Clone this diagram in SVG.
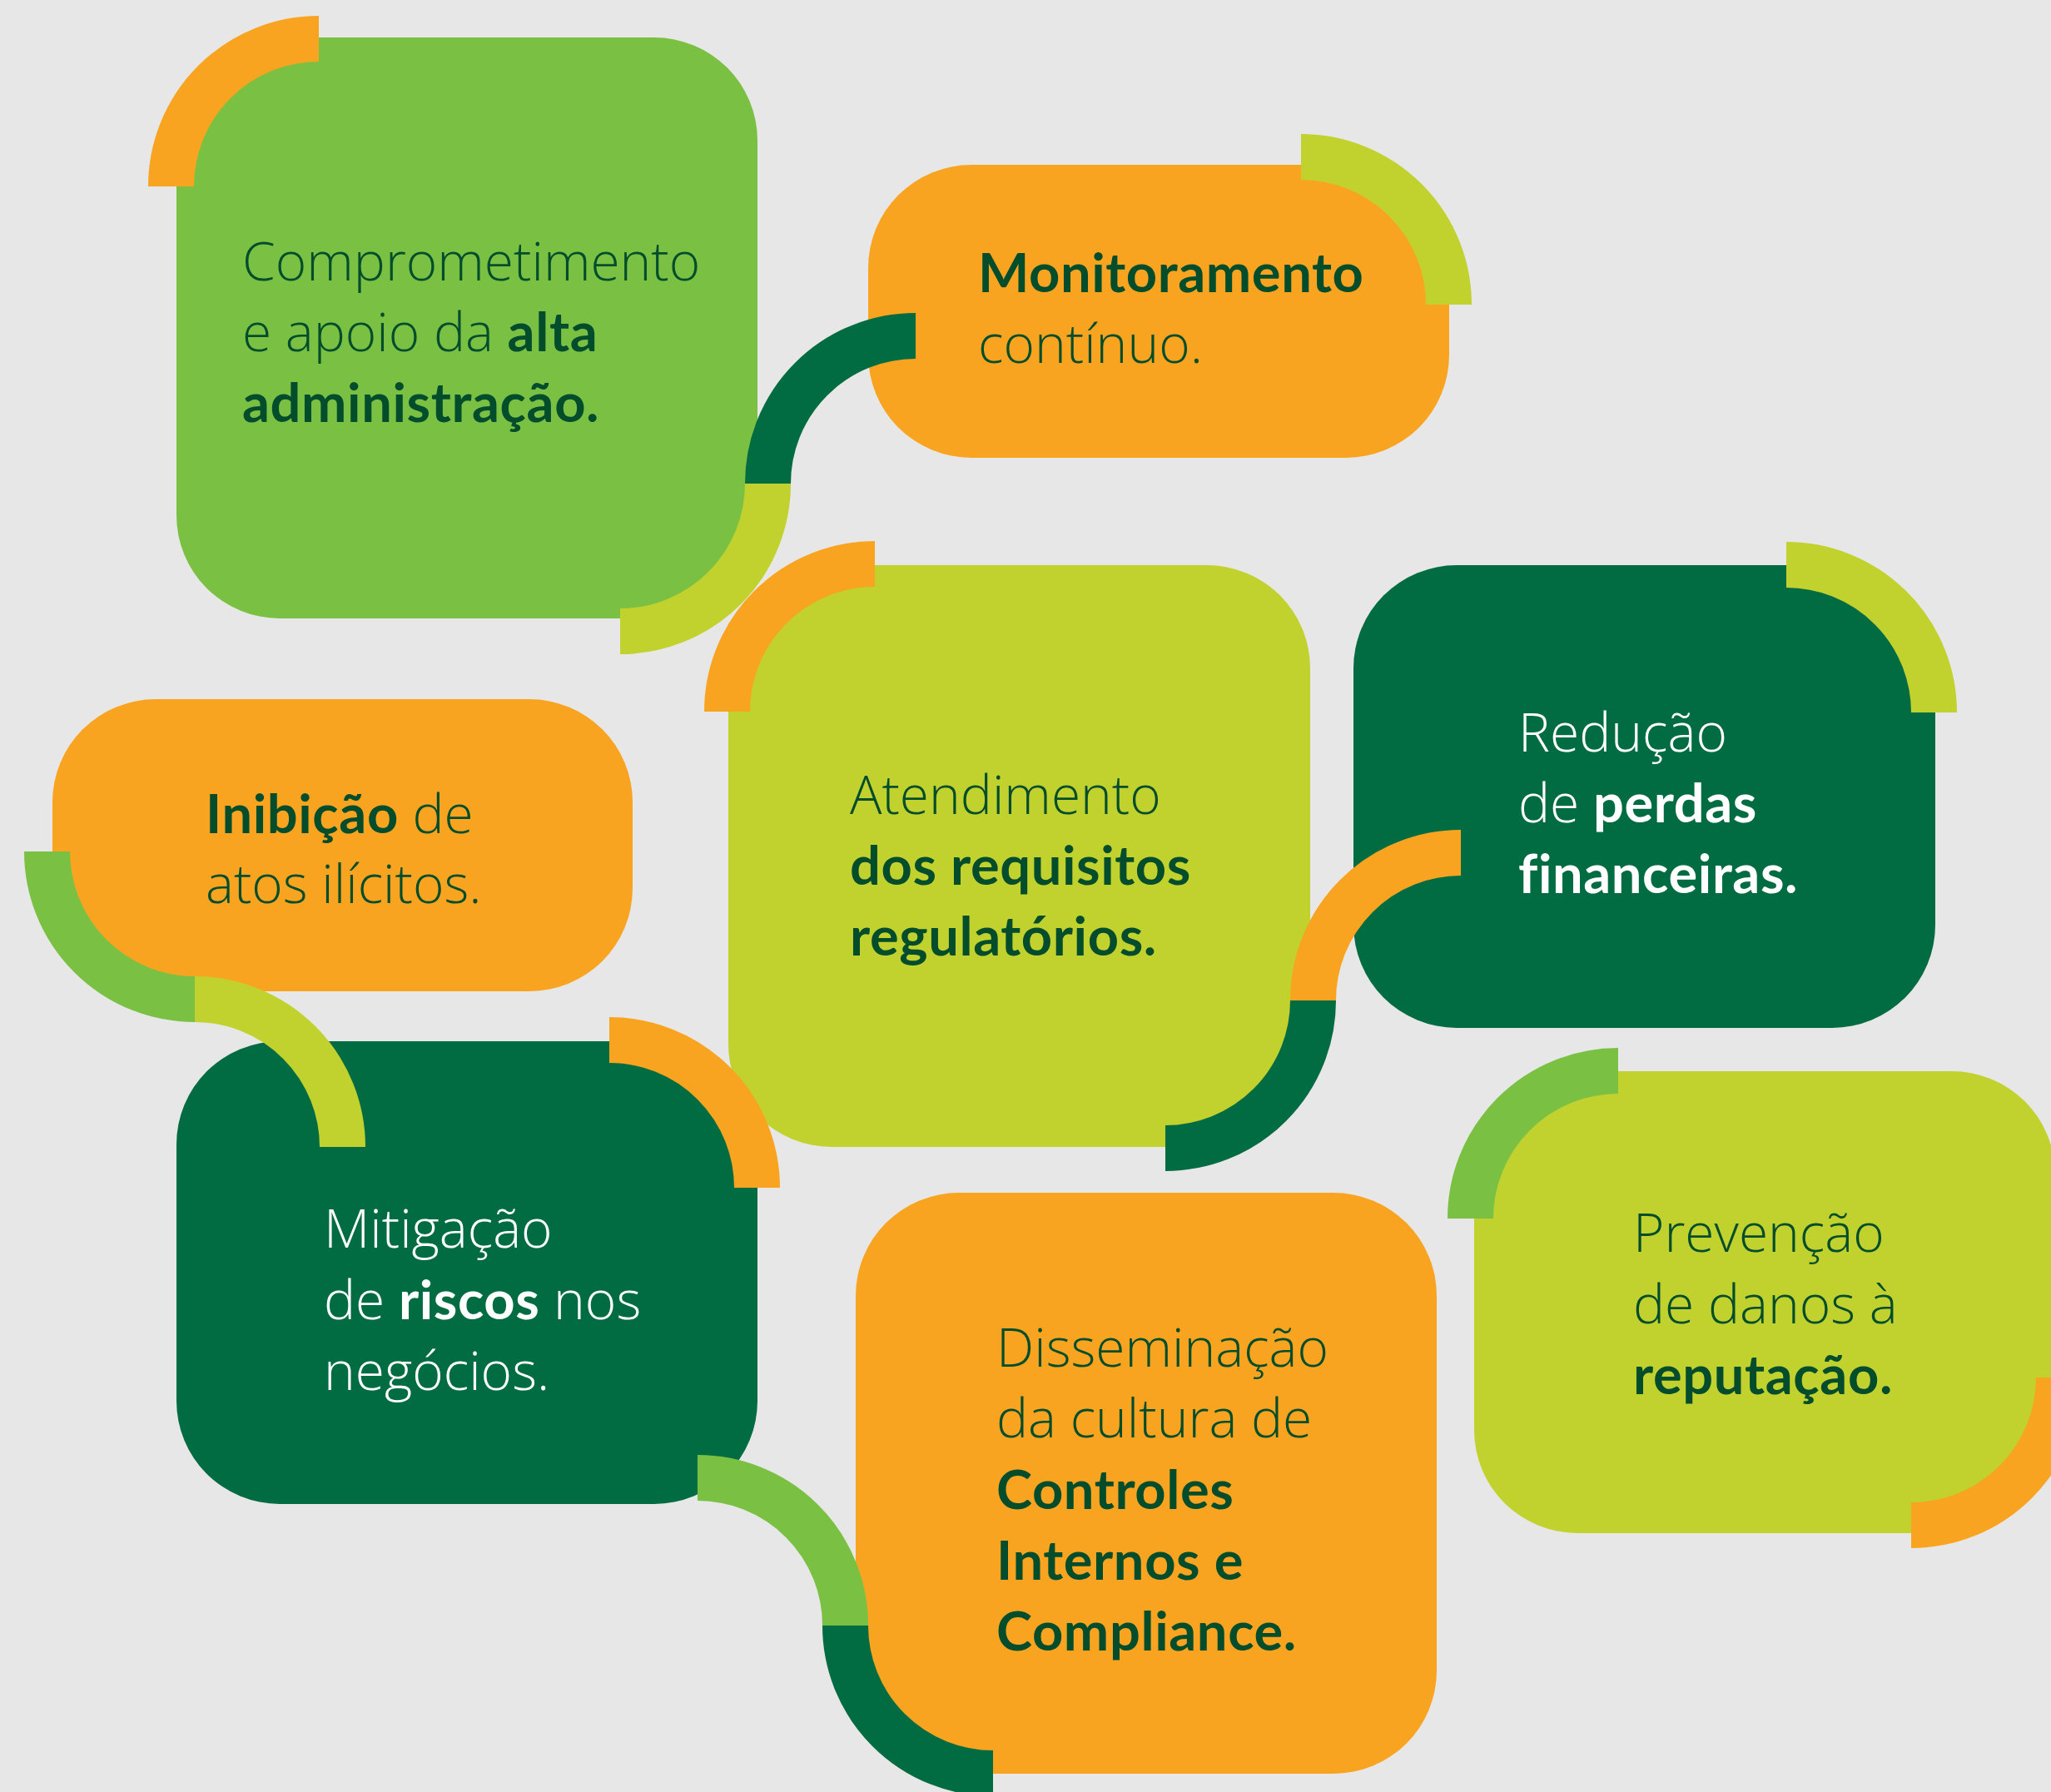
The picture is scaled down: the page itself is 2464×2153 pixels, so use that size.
<svg xmlns="http://www.w3.org/2000/svg" width="2464" height="2153" viewBox="0 0 2464 2153">
<style>
.bg{fill:#e7e7e7}
.green{fill:#7ac143}
.orange{fill:#f9a420}
.lime{fill:#c1d22e}
.dark{fill:#016b42}
.arc{fill:none;stroke-width:55;stroke-linecap:butt}
.s-green{stroke:#7ac143}
.s-orange{stroke:#f9a420}
.s-lime{stroke:#c1d22e}
.s-dark{stroke:#016b42}
text{font-family:"Open Sans","Lato",sans-serif;font-size:64px;font-weight:300;fill:#034d2c}
.w{fill:#ffffff}
.b{font-family:"Lato","Open Sans",sans-serif;font-weight:700;font-size:65px;letter-spacing:0.6px}
</style>
<rect class="bg" x="0" y="0" width="2464" height="2153"/>
<g id="node-comprometimento">
<rect class="green" x="212" y="45" width="698" height="698" rx="124"/>
<text x="291" y="337">Comprometimento</text>
<text x="291" y="422">e apoio da <tspan class="b">alta</tspan></text>
<text x="291" y="507"><tspan class="b">administração.</tspan></text>
</g>
<g id="node-monitoramento">
<rect class="orange" x="1043" y="198" width="698" height="352" rx="124"/>
<text x="1175" y="351"><tspan class="b">Monitoramento</tspan></text>
<text x="1175" y="436">contínuo.</text>
</g>
<g id="node-atendimento">
<rect class="lime" x="875" y="679" width="699" height="699" rx="124"/>
<text x="1021" y="978">Atendimento</text>
<text x="1021" y="1063"><tspan class="b">dos requisitos</tspan></text>
<text x="1021" y="1148"><tspan class="b">regulatórios.</tspan></text>
</g>
<g id="node-reducao">
<rect class="dark" x="1626" y="679" width="699" height="556" rx="124"/>
<text class="w" x="1824" y="903">Redução</text>
<text class="w" x="1824" y="988">de <tspan class="b w">perdas</tspan></text>
<text class="w" x="1824" y="1073"><tspan class="b w">financeiras.</tspan></text>
</g>
<g id="node-inibicao">
<rect class="orange" x="63" y="840" width="697" height="351" rx="124"/>
<text x="247" y="1001"><tspan class="b">Inibição</tspan> de</text>
<text x="247" y="1085">atos ilícitos.</text>
</g>
<g id="node-mitigacao">
<rect class="dark" x="212" y="1251" width="698" height="556" rx="124"/>
<text class="w" x="389" y="1499">Mitigação</text>
<text class="w" x="389" y="1585">de <tspan class="b w">riscos</tspan> nos</text>
<text class="w" x="389" y="1670">negócios.</text>
</g>
<g id="node-disseminacao">
<rect class="orange" x="1028" y="1433" width="698" height="698" rx="124"/>
<text x="1197" y="1642">Disseminação</text>
<text x="1197" y="1727">da cultura de</text>
<text x="1197" y="1813"><tspan class="b">Controles</tspan></text>
<text x="1197" y="1898"><tspan class="b">Internos e</tspan></text>
<text x="1197" y="1983"><tspan class="b">Compliance.</tspan></text>
</g>
<g id="node-prevencao">
<rect class="lime" x="1771" y="1287" width="698" height="555" rx="124"/>
<text x="1962" y="1504">Prevenção</text>
<text x="1962" y="1590">de danos à</text>
<text x="1962" y="1675"><tspan class="b">reputação.</tspan></text>
</g>
<g id="connectors">
<path class="arc s-orange" d="M205.5 224 A177.5 177.5 0 0 1 383 46.5"/>
<path class="arc s-lime" d="M745 758.5 A177.5 177.5 0 0 0 922.5 581"/>
<path class="arc s-dark" d="M922.5 581 A177.5 177.5 0 0 1 1100 403.5"/>
<path class="arc s-lime" d="M1563 188.5 A177.5 177.5 0 0 1 1740.5 366"/>
<path class="arc s-orange" d="M873.5 855 A177.5 177.5 0 0 1 1051 677.5"/>
<path class="arc s-lime" d="M2146 678.5 A177.5 177.5 0 0 1 2323.5 856"/>
<path class="arc s-orange" d="M1577.5 1202 A177.5 177.5 0 0 1 1755 1024.5"/>
<path class="arc s-dark" d="M1400 1379.5 A177.5 177.5 0 0 0 1577.5 1202"/>
<path class="arc s-green" d="M56.5 1023 A177.5 177.5 0 0 0 234 1200.5"/>
<path class="arc s-lime" d="M234 1200.5 A177.5 177.5 0 0 1 411.5 1378"/>
<path class="arc s-orange" d="M732 1249.5 A177.5 177.5 0 0 1 909.5 1427"/>
<path class="arc s-green" d="M838 1775.5 A177.5 177.5 0 0 1 1015.5 1953"/>
<path class="arc s-dark" d="M1015.5 1953 A177.5 177.5 0 0 0 1193 2130.5"/>
<path class="arc s-green" d="M1766.5 1464 A177.5 177.5 0 0 1 1944 1286.5"/>
<path class="arc s-orange" d="M2296 1832.5 A177.5 177.5 0 0 0 2473.5 1655"/>
</g>
</svg>
